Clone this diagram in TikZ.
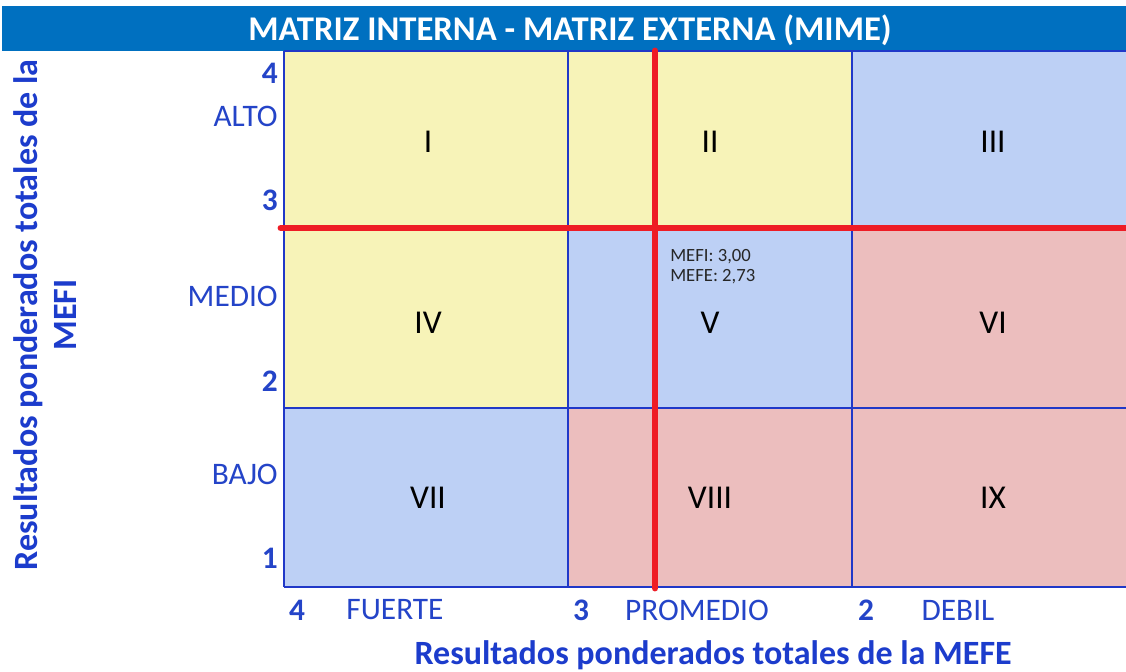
\documentclass[tikz,border=0pt]{standalone}
\usepackage{fontspec}
\setmainfont{Carlito}
\definecolor{titleblue}{HTML}{0070C0}
\definecolor{gridblue}{HTML}{2038C8}
\definecolor{labelblue}{HTML}{2444C8}
\definecolor{axisblue}{HTML}{1C3CCC}
\definecolor{cellyellow}{HTML}{F7F3B8}
\definecolor{cellblue}{HTML}{BDD0F5}
\definecolor{cellpink}{HTML}{ECBEBE}
\definecolor{linered}{HTML}{EE1C25}
\definecolor{notegray}{HTML}{262626}
\tikzset{
  yellowcell/.style={fill=cellyellow},
  bluecell/.style={fill=cellblue},
  pinkcell/.style={fill=cellpink},
  roman/.style={font=\fontsize{25}{28}\selectfont, text=black, inner sep=0pt},
  lvl/.style={font=\fontsize{23.5}{26}\selectfont, text=labelblue, inner sep=0pt},
  num/.style={font=\fontsize{23.5}{26}\selectfont\bfseries, text=labelblue, inner sep=0pt},
  axtitle/.style={font=\fontsize{25.5}{28}\selectfont\bfseries, text=axisblue, inner sep=0pt},
  note/.style={font=\fontsize{14}{16}\selectfont, text=notegray, inner sep=0pt, anchor=west},
  gridline/.style={draw=gridblue, line width=0.9pt},
  redline/.style={draw=linered, line width=5.2pt, line cap=round},
}
\begin{document}
\begin{tikzpicture}[x=0.75pt,y=-0.75pt]
\useasboundingbox (0,0) rectangle (1126,671);
\fill[white] (0,0) rectangle (1126,671);
% title bar
\fill[titleblue] (2,6) rectangle (1126,51);
\node[font=\fontsize{26}{29}\selectfont\bfseries, text=white, inner sep=0pt] (title) at (570,30) {MATRIZ INTERNA - MATRIZ EXTERNA (MIME)};
% cells
\fill[yellowcell] (284,51) rectangle (568,228);
\fill[yellowcell] (568,51) rectangle (852,228);
\fill[bluecell] (852,51) rectangle (1126,228);
\fill[yellowcell] (284,228) rectangle (568,408);
\fill[bluecell] (568,228) rectangle (852,408);
\fill[pinkcell] (852,228) rectangle (1126,408);
\fill[bluecell] (284,408) rectangle (568,587);
\fill[pinkcell] (568,408) rectangle (852,587);
\fill[pinkcell] (852,408) rectangle (1126,587);
% grid
\draw[gridline] (284,51) -- (1126,51);
\draw[gridline] (284,228) -- (1126,228);
\draw[gridline] (284,408) -- (1126,408);
\draw[gridline] (284,587) -- (1126,587);
\draw[gridline] (284,51) -- (284,587);
\draw[gridline] (568,51) -- (568,587);
\draw[gridline] (852,51) -- (852,587);
% roman numerals
\node[roman] (c1) at (428,142) {I};
\node[roman] (c2) at (710,142) {II};
\node[roman] (c3) at (993,142) {III};
\node[roman] (c4) at (428,323) {IV};
\node[roman] (c5) at (710,323) {V};
\node[roman] (c6) at (993,323) {VI};
\node[roman] (c7) at (428,498) {VII};
\node[roman] (c8) at (710,498) {VIII};
\node[roman] (c9) at (993,498) {IX};
% red lines
\coordinate (hl) at (281,228);
\coordinate (hr) at (1130,228);
\coordinate (vt) at (655,51);
\coordinate (vb) at (655,588);
\draw[redline] (hl) -- (hr);
\draw[redline] (vt) -- (vb);
% note
\node[note] (n1) at (670,257) {MEFI: 3,00};
\node[note] (n2) at (670,277) {MEFE: 2,73};
% y labels
\node[num, anchor=east] (y4) at (278,73) {4};
\node[lvl, anchor=east] (alto) at (278,116) {ALTO};
\node[num, anchor=east] (y3) at (278,200) {3};
\node[lvl, anchor=east] (medio) at (278,296) {MEDIO};
\node[num, anchor=east] (y2) at (278,381) {2};
\node[lvl, anchor=east] (bajo) at (278,474) {BAJO};
\node[num, anchor=east] (y1) at (278,558) {1};
% x labels
\node[num] (x4) at (297,610) {4};
\node[lvl] (fuerte) at (395,610) {FUERTE};
\node[num] (x3) at (581,610) {3};
\node[lvl] (promedio) at (697,610) {PROMEDIO};
\node[num] (x2) at (866,610) {2};
\node[lvl] (debil) at (958,610) {DEBIL};
% axis titles
\node[axtitle] (xt) at (713,655) {Resultados ponderados totales de la MEFE};
\node[axtitle, rotate=90] (yt1) at (28,315) {Resultados ponderados totales de la};
\node[axtitle, rotate=90] (yt2) at (65,315) {MEFI};
\end{tikzpicture}
\end{document}
